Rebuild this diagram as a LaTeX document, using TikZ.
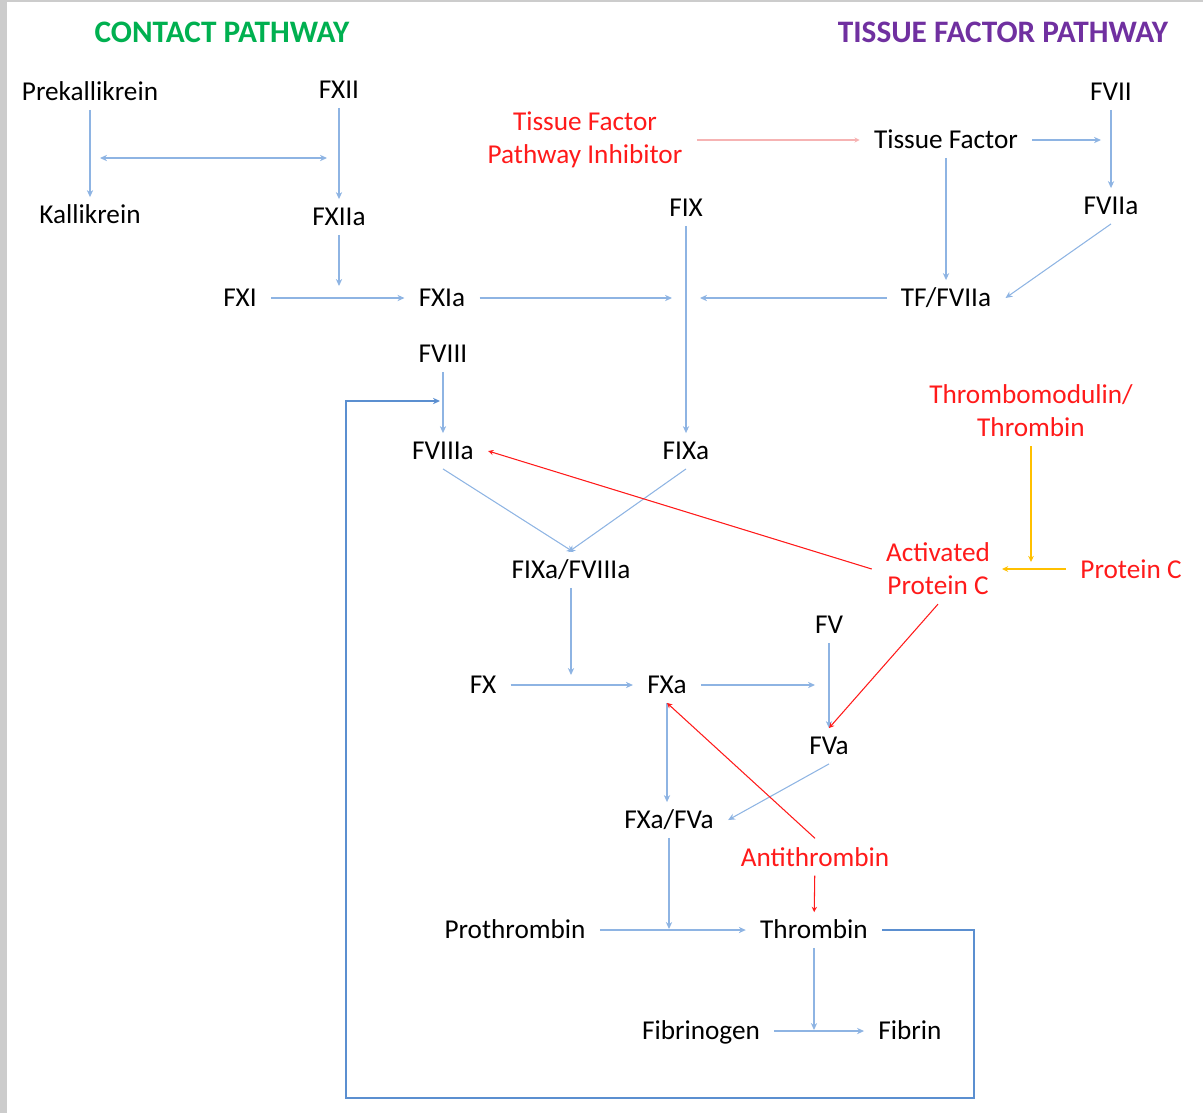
\documentclass[tikz,border=0pt]{standalone}
\usepackage{fontspec}
\setmainfont{Carlito}
\usepackage{tikz}
\usetikzlibrary{arrows.meta, calc}

\definecolor{flowblue}{HTML}{8EB4E3}
\definecolor{loopblue}{HTML}{5B8FD0}
\definecolor{inhred}{HTML}{FF1A1A}
\definecolor{tfpink}{HTML}{F6B3B3}
\definecolor{pcorange}{HTML}{FFC000}
\definecolor{contactgreen}{HTML}{00B050}
\definecolor{tfpurple}{HTML}{7030A0}

\begin{document}
\begin{tikzpicture}[x=0.02cm, y=-0.02cm,
  every node/.style={font=\fontsize{15.5}{18.7}\selectfont, inner xsep=8pt, inner ysep=5pt},
  factor/.style={text=black, text height=12pt, text depth=2pt, inner ysep=3pt},
  inhib/.style={text=inhred, align=center},
  pathtitle/.style={font=\fontsize{17.8}{20}\selectfont\bfseries},
  flow/.style={draw=flowblue, line width=0.6pt, -{Stealth[length=4pt, width=3.6pt]}},
  flowboth/.style={draw=flowblue, line width=0.6pt, {Stealth[length=4pt, width=3.6pt]}-{Stealth[length=4pt, width=3.6pt]}},
  loopflow/.style={draw=loopblue, line width=1.1pt, -{Stealth[length=4pt, width=3.6pt]}},
  block/.style={draw=inhred, line width=0.6pt, -{Stealth[length=3pt, width=3pt]}},
  tfpiflow/.style={draw=tfpink, line width=1.2pt, -{Stealth[length=3pt, width=3pt]}},
  pcflow/.style={draw=pcorange, line width=0.6pt, -{Stealth[length=3.5pt, width=3.2pt]}}]

\useasboundingbox (0,0) rectangle (1203,1113);
\fill[gray!40] (0,0) rectangle (7,1113);
\fill[gray!40] (0,0) rectangle (1203,1.5);

% pathway titles
\node (contact) [pathtitle, text=contactgreen] at (222,32) {CONTACT PATHWAY};
\node (tissue) [pathtitle, text=tfpurple] at (1003,32) {TISSUE FACTOR PATHWAY};

% contact pathway
\node (prek) [factor] at (90,92) {Prekallikrein};
\node (fxii) [factor] at (339,90) {FXII};
\node (kall) [factor] at (90,215) {Kallikrein};
\node (fxiia) [factor] at (339,217) {FXIIa};
\node (fxi) [factor] at (240,298) {FXI};
\node (fxia) [factor] at (442,298) {FXIa};

% tissue factor pathway
\node (tfpi) [inhib] at (585,140) {Tissue Factor\\Pathway Inhibitor};
\node (tf) [factor] at (946,140) {Tissue Factor};
\node (fvii) [factor] at (1111,92) {FVII};
\node (fviia) [factor] at (1111,206) {FVIIa};
\node (tff) [factor] at (946,298) {TF/FVIIa};
\node (fix) [factor] at (686,208) {FIX};

% common pathway
\node (fviii) [factor] at (443,354) {FVIII};
\node (fviiia) [factor] at (443,451) {FVIIIa};
\node (fixa) [factor] at (686,451) {FIXa};
\node (tenase) [factor] at (571,570) {FIXa/FVIIIa};
\node (tm) [inhib] at (1031,411) {Thrombomodulin/\\Thrombin};
\node (apc) [inhib] at (938,569) {Activated\\Protein C};
\node (pc) [inhib] at (1131,569) {Protein C};
\node (fv) [factor] at (829,625) {FV};
\node (fx) [factor] at (483,685) {FX};
\node (fxa) [factor] at (667,685) {FXa};
\node (fva) [factor] at (829,746) {FVa};
\node (prothr) [factor] at (669,820) {FXa/FVa};
\node (at) [inhib] at (815,857) {Antithrombin};
\node (pro) [factor] at (515,930) {Prothrombin};
\node (thr) [factor] at (814,930) {Thrombin};
\node (fbg) [factor] at (701,1031) {Fibrinogen};
\node (fib) [factor] at (910,1031) {Fibrin};

% junctions on other arrows
\coordinate (kj1) at (100,158);
\coordinate (kj2) at (327,158);
\coordinate (xij) at (339,286);
\coordinate (ixj1) at (672,298);
\coordinate (ixj2) at (700,298);
\coordinate (viij) at (1101,140);
\coordinate (viiij) at (440,401);
\coordinate (xj) at (571,675);
\coordinate (vj) at (815,685);
\coordinate (iij) at (669,929);
\coordinate (ij) at (814,1030);
\coordinate (pcj) at (1031,562);
\coordinate (apcj) at (1002,569);
\coordinate (loopbr) at (974,1098);
\coordinate (loopbl) at (346,1098);

\draw[flow] (prek) -- (kall);
\draw[flowboth] (kj1) -- (kj2);
\draw[flow] (fxii) -- (fxiia);
\draw[flow] (fxiia) -- (xij);
\draw[flow] (fxi) -- (fxia);
\draw[flow] (fxia) -- (ixj1);
\draw[flow] (tff) -- (ixj2);
\draw[flow] (fix) -- (fixa);
\draw[tfpiflow] (tfpi) -- (tf);
\draw[flow] (tf) -- (viij);
\draw[flow] (tf) -- (tff);
\draw[flow] (fvii) -- (fviia);
\draw[flow] (fviia.south) -- (tff.east);
\draw[flow] (fviii) -- (fviiia);
\draw[loopflow] (thr) -| (loopbr) -- (loopbl) |- (viiij);
\draw[flow] (fviiia.south) -- ([xshift=1.5pt]tenase.north);
\draw[flow] (fixa.south) -- ([xshift=-1.5pt]tenase.north);
\draw[block] (apc.west) -- (fviiia.east);
\draw[pcflow] (tm) -- (pcj);
\draw[pcflow] (pc) -- (apcj);
\draw[flow] (tenase) -- (xj);
\draw[flow] (fx) -- (fxa);
\draw[flow] (fxa) -- (vj);
\draw[flow] (fv) -- (fva);
\draw[block] (apc.south) -- (fva.north);
\draw[flow] (fva.south) -- (prothr.east);
\draw[flow] (fxa) -- (fxa |- prothr.north);
\draw[block] (at.north) -- (fxa.south);
\draw[block] (at) -- (thr);
\draw[flow] (prothr) -- (iij);
\draw[flow] (pro) -- (thr);
\draw[flow] (thr) -- (ij);
\draw[flow] (fbg) -- (fib);
\end{tikzpicture}
\end{document}
